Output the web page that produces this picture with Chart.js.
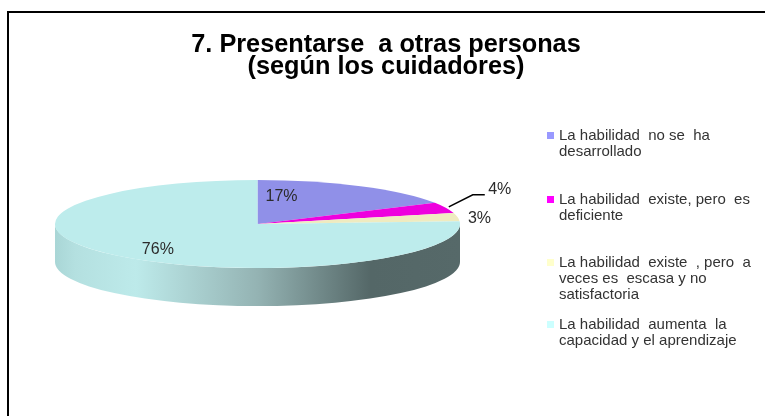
<!DOCTYPE html>
<html><head><meta charset="utf-8">
<style>html,body{margin:0;padding:0;background:#fff;overflow:hidden}canvas{display:block}</style>
<script src="https://cdn.jsdelivr.net/npm/chart.js@4"></script>
</head><body><canvas id="c" width="765" height="416"></canvas>
<script>
const titleLines = ["7. Presentarse  a otras personas", "(según los cuidadores)"];
const categories = [
  ["La habilidad  no se  ha", "desarrollado"],
  ["La habilidad  existe, pero  es", "deficiente"],
  ["La habilidad  existe  , pero  a", "veces es  escasa y no", "satisfactoria"],
  ["La habilidad  aumenta  la", "capacidad y el aprendizaje"]
];
const values = [17, 4, 3, 76];
const sliceColors = ["#9090E8", "#EE00DE", "#EFEBC0", "#BDECEC"];
const swatchColors = ["#9999FF", "#FF00FF", "#FFFFCC", "#CCFFFF"];

const E = {cx: 257.5, cy: 224, rx: 202.5, ry: 44, depth: 38};
const labelOffsets = [[-79, 10], [54, -18], [22, 1], [39, -6]];
const legendTops = [136, 200, 263, 325];

const pie3d = {
  id: 'pie3d',
  beforeDraw(chart) {
    const c = chart.ctx;
    c.save();
    c.strokeStyle = '#000'; c.lineWidth = 2;
    c.beginPath(); c.moveTo(8, 416); c.lineTo(8, 12); c.lineTo(765, 12); c.stroke();
    c.restore();
  },
  beforeDatasetsDraw(chart) {
    const c = chart.ctx, arc = chart.getDatasetMeta(0).data[0];
    const g = c.createLinearGradient(E.cx - E.rx, 0, E.cx + E.rx, 0);
    g.addColorStop(0, '#A9D6D6');
    g.addColorStop(0.05, '#B4E0E0');
    g.addColorStop(0.2, '#BDEAEA');
    g.addColorStop(0.5, '#94B3B3');
    g.addColorStop(0.78, '#546767');
    g.addColorStop(1, '#566969');
    c.save();
    c.fillStyle = g;
    c.beginPath();
    c.ellipse(E.cx, E.cy, E.rx, E.ry, 0, Math.PI, 0, true);
    c.ellipse(E.cx, E.cy + E.depth, E.rx, E.ry, 0, 0, Math.PI, false);
    c.closePath(); c.fill();
    c.restore();
    c.save();
    c.translate(E.cx, E.cy);
    c.scale(E.rx / arc.outerRadius, E.ry / arc.outerRadius);
    c.translate(-arc.x, -arc.y);
  },
  afterDatasetsDraw(chart) {
    const c = chart.ctx;
    c.restore();
    const arcs = chart.getDatasetMeta(0).data;
    c.save();
    c.font = '16px "Liberation Sans"';
    c.fillStyle = '#2b2b2b';
    c.textAlign = 'center'; c.textBaseline = 'middle';
    arcs.forEach((a, i) => {
      const th = (a.startAngle + a.endAngle) / 2;
      const px = E.cx + E.rx * Math.cos(th), py = E.cy + E.ry * Math.sin(th);
      const lx = px + labelOffsets[i][0], ly = py + labelOffsets[i][1];
      c.fillText(values[i] + '%', lx, ly);
      if (i === 1) {
        c.strokeStyle = '#000'; c.lineWidth = 1.5;
        c.beginPath(); c.moveTo(px + 3, py - 1); c.lineTo(lx - 27, ly + 5); c.lineTo(lx - 15, ly + 5); c.stroke();
      }
    });
    c.textAlign = 'left';
    c.font = '15px "Liberation Sans"';
    categories.forEach((lines, i) => {
      c.fillStyle = swatchColors[i];
      c.fillRect(547, legendTops[i] - 4, 7, 7);
      c.fillStyle = '#333';
      lines.forEach((t, j) => c.fillText(t, 559, legendTops[i] + j * 16));
    });
    c.restore();
  }
};

new Chart(document.getElementById('c'), {
  type: 'pie',
  data: {
    labels: categories.map(l => l.join(' ')),
    datasets: [{data: values, backgroundColor: sliceColors, borderWidth: 0}]
  },
  options: {
    responsive: false, animation: false,
    layout: {padding: {left: 7, top: 34}},
    plugins: {
      legend: {display: false},
      tooltip: {enabled: false},
      title: {
        display: true, text: titleLines, color: '#000',
        font: {family: '"Liberation Sans"', size: 25.3, weight: 'bold', lineHeight: 0.87},
        padding: {top: 0, bottom: 10}
      }
    }
  },
  plugins: [pie3d]
});
</script></body></html>
